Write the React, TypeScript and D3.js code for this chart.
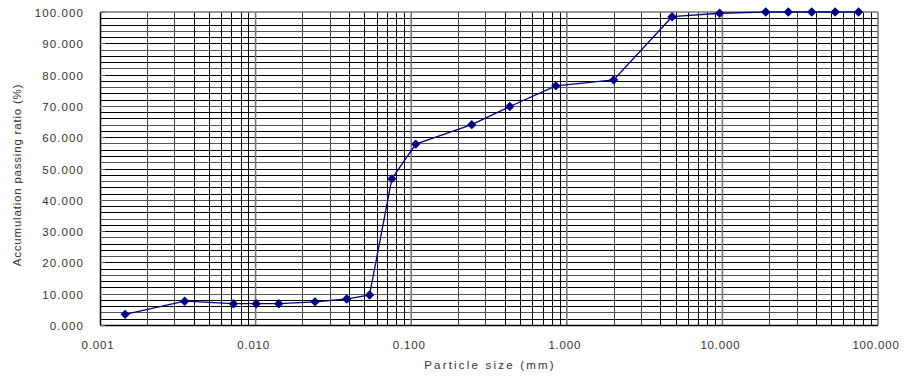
import * as d3 from "d3";
import { useEffect, useRef } from "react";

const sizes = [
  0.00145, 0.0035, 0.0072, 0.0101, 0.0141, 0.0241, 0.0385, 0.054, 0.0751, 0.107,
  0.245, 0.43, 0.85, 2.0, 4.75, 9.6, 19, 26.5, 37.5, 53, 75,
];
const passing = [
  3.4, 7.6, 6.8, 6.8, 6.8, 7.4, 8.3, 9.6, 46.7, 57.8,
  64.0, 69.8, 76.4, 78.3, 98.5, 99.6, 100, 100, 100, 100, 100,
];
const xTicks = [0.001, 0.01, 0.1, 1, 10, 100];
const yTicks = [0, 10, 20, 30, 40, 50, 60, 70, 80, 90, 100];

const width = 906;
const height = 379;
const margin = { top: 12, right: 28, bottom: 54, left: 100 };

// snap to pixel centre so 1px lines stay crisp
const crisp = (v: number) => Math.round(v) + 0.5;

export default function App() {
  const svgRef = useRef<SVGSVGElement | null>(null);

  useEffect(() => {
    if (!svgRef.current) return;
    const svg = d3.select(svgRef.current);
    svg.selectAll("*").remove();

    const x = d3.scaleLog().domain([0.001, 100]).range([margin.left, width - margin.right]);
    const y = d3.scaleLinear().domain([0, 100]).range([height - margin.bottom, margin.top]);

    const font = "'Liberation Sans', Arial, sans-serif";

    // horizontal grid every 2%
    svg
      .append("g")
      .selectAll("line")
      .data(d3.range(2, 100, 2))
      .join("line")
      .attr("x1", x(0.001))
      .attr("x2", x(100))
      .attr("y1", (v) => crisp(y(v)))
      .attr("y2", (v) => crisp(y(v)))
      .attr("stroke", (v, i) => (i % 3 === 1 ? "#555" : "#000"))
      .attr("stroke-width", 1);

    // vertical log grid
    const minor: number[] = [];
    for (let e = -3; e < 2; e++) {
      for (let m = 2; m <= 9; m++) minor.push(m * Math.pow(10, e));
    }
    svg
      .append("g")
      .selectAll("line")
      .data(minor)
      .join("line")
      .attr("x1", (v) => crisp(x(v)))
      .attr("x2", (v) => crisp(x(v)))
      .attr("y1", y(100))
      .attr("y2", y(0))
      .attr("stroke", (v, i) => (i % 8 < 2 ? "#444" : "#000"))
      .attr("stroke-width", 1);

    svg
      .append("g")
      .selectAll("line")
      .data(xTicks.slice(1, -1))
      .join("line")
      .attr("x1", (v) => x(v))
      .attr("x2", (v) => x(v))
      .attr("y1", y(100))
      .attr("y2", y(0))
      .attr("stroke", "#777")
      .attr("stroke-width", 1.6);

    // frame
    svg
      .append("line")
      .attr("x1", x(0.001))
      .attr("x2", x(100))
      .attr("y1", y(100))
      .attr("y2", y(100))
      .attr("stroke", "#777")
      .attr("stroke-width", 1.6);
    svg
      .append("line")
      .attr("x1", x(100))
      .attr("x2", x(100))
      .attr("y1", y(100))
      .attr("y2", y(0))
      .attr("stroke", "#777")
      .attr("stroke-width", 1.6);
    svg
      .append("line")
      .attr("x1", x(0.001))
      .attr("x2", x(100))
      .attr("y1", crisp(y(0)))
      .attr("y2", crisp(y(0)))
      .attr("stroke", "#000")
      .attr("stroke-width", 1.5);
    svg
      .append("line")
      .attr("x1", crisp(x(0.001)))
      .attr("x2", crisp(x(0.001)))
      .attr("y1", y(100))
      .attr("y2", y(0))
      .attr("stroke", "#000")
      .attr("stroke-width", 1.5);

    // small ticks on left axis
    svg
      .append("g")
      .selectAll("line")
      .data(yTicks)
      .join("line")
      .attr("x1", x(0.001))
      .attr("x2", x(0.001) + 5)
      .attr("y1", (v) => crisp(y(v)))
      .attr("y2", (v) => crisp(y(v)))
      .attr("stroke", "#666")
      .attr("stroke-width", 1);

    // y tick labels
    svg
      .append("g")
      .selectAll("text")
      .data(yTicks)
      .join("text")
      .attr("x", 84)
      .attr("y", (v) => y(v) + 5)
      .attr("text-anchor", "end")
      .attr("font-family", font)
      .attr("font-size", 11.5)
      .attr("letter-spacing", 1.1)
      .attr("fill", "#333")
      .text((v) => v.toFixed(3));

    // x tick labels
    svg
      .append("g")
      .selectAll("text")
      .data(xTicks)
      .join("text")
      .attr("x", (v) => x(v) - 2)
      .attr("y", 349)
      .attr("text-anchor", "middle")
      .attr("font-family", font)
      .attr("font-size", 11.5)
      .attr("letter-spacing", 0.8)
      .attr("fill", "#333")
      .text((v) => v.toFixed(3));

    svg
      .append("text")
      .attr("x", 490)
      .attr("y", 369)
      .attr("text-anchor", "middle")
      .attr("font-family", font)
      .attr("font-size", 11.5)
      .attr("letter-spacing", 2.2)
      .attr("fill", "#333")
      .text("Particle size (mm)");

    svg
      .append("text")
      .attr("transform", "translate(21, 175) rotate(-90)")
      .attr("text-anchor", "middle")
      .attr("font-family", font)
      .attr("font-size", 11.5)
      .attr("letter-spacing", 0.8)
      .attr("fill", "#333")
      .text("Accumulation passing ratio (%)");

    // data
    const points = sizes.map((s, i) => [s, passing[i]] as [number, number]);
    const line = d3
      .line<[number, number]>()
      .x((d) => x(d[0]))
      .y((d) => y(d[1]));

    svg
      .append("path")
      .datum(points)
      .attr("d", line)
      .attr("fill", "none")
      .attr("stroke", "#000080")
      .attr("stroke-width", 1.3);

    const diamond = d3.symbol().type(d3.symbolDiamond2).size(56);
    svg
      .append("g")
      .selectAll("path")
      .data(points)
      .join("path")
      .attr("transform", (d) => `translate(${x(d[0])},${y(d[1])})`)
      .attr("d", diamond)
      .attr("fill", "#000080");
  }, []);

  return (
    <svg
      ref={svgRef}
      width={width}
      height={height}
      style={{ position: "absolute", left: 0, top: 0, background: "#fff" }}
    />
  );
}
